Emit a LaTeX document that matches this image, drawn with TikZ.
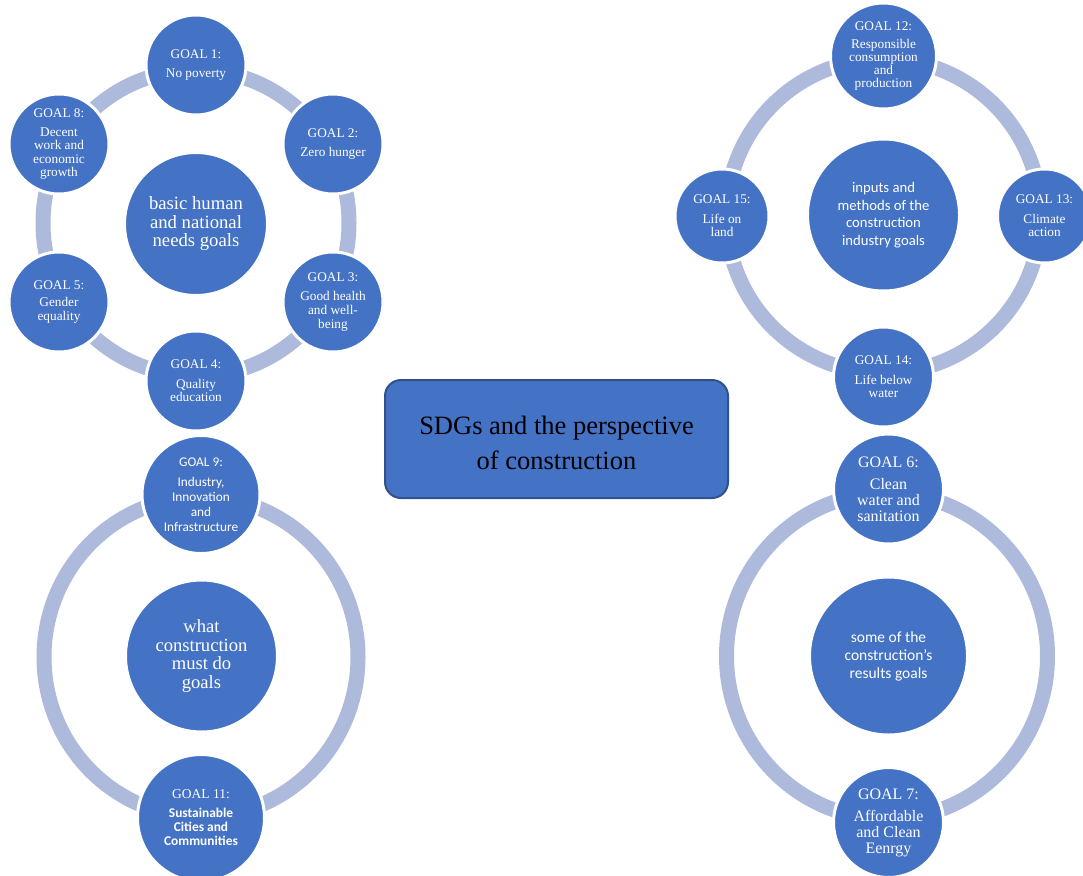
\documentclass[tikz,border=0pt]{standalone}
\usepackage{fontspec}
\setmainfont{Liberation Serif}
\newfontfamily\tnr{Liberation Serif}
\newfontfamily\carl{Carlito}
\definecolor{nodec}{RGB}{68,114,196}
\definecolor{ringc}{RGB}{174,186,220}
\definecolor{boxc}{RGB}{47,82,143}
\tikzset{
  ringline/.style={draw=ringc, line width=15pt},
  goal/.style={circle, fill=nodec, draw=white, line width=3pt, inner sep=0pt, text=white, align=center, font=\tnr\fontsize{13.3}{13.6}\selectfont},
  hub/.style={circle, fill=nodec, draw=white, line width=3pt, inner sep=0pt, text=white, align=center},
  titlebox/.style={rectangle, rounded corners=16pt, fill=nodec, draw=boxc, line width=2pt, minimum width=343pt, minimum height=118pt},
  titletext/.style={align=center, text=black, inner sep=0pt, font=\tnr\fontsize{26.5}{35}\selectfont}
}
\begin{document}
\begin{tikzpicture}[x=1pt,y=-1pt]
\useasboundingbox (0,0) rectangle (1083,875);
% ---------- rings ----------
\draw[ringline] (196,223) circle[radius=153];
\draw[ringline] (883.5,216) circle[radius=157];
\draw[ringline] (201,657) ellipse[x radius=157, y radius=160];
\draw[ringline] (887,656) ellipse[x radius=160.5, y radius=163];
% ---------- cluster 1 ----------
\node[hub, minimum size=143pt, font=\tnr\fontsize{18.7}{18.5}\selectfont] (hub1) at (196,224) {basic human\\and national\\needs goals};
\node[goal, minimum size=100pt] (g1) at (196,65) {GOAL 1:\\[6pt]No poverty};
\node[goal, minimum size=100pt] (g2) at (333,144) {GOAL 2:\\[4.7pt]Zero hunger};
\node[goal, minimum size=100pt] (g3) at (333,302) {GOAL 3:\\[5.5pt]Good health\\and well-\\being};
\node[goal, minimum size=100pt] (g4) at (196,381) {GOAL 4:\\[5.5pt]Quality\\education};
\node[goal, minimum size=100pt] (g5) at (59,302) {GOAL 5:\\[4pt]Gender\\equality};
\node[goal, minimum size=100pt] (g8) at (59,144) {GOAL 8:\\[5.5pt]Decent\\work and\\economic\\growth};
% ---------- cluster 2 ----------
\node[hub, minimum size=152pt, font=\carl\fontsize{14.7}{17.6}\selectfont] (hub2) at (883.5,215) {inputs and\\methods of the\\construction\\industry goals};
\node[goal, minimum size=106pt, font=\tnr\fontsize{13.3}{13}\selectfont] (g12) at (883.5,56) {GOAL 12:\\[5pt]Responsible\\consumption\\and\\production};
\node[goal, minimum size=94pt] (g13) at (1044.5,216) {GOAL 13:\\[5.5pt]Climate\\action};
\node[goal, minimum size=100pt] (g14) at (883.5,377) {GOAL 14:\\[5.5pt]Life below\\water};
\node[goal, minimum size=94pt] (g15) at (722,216) {GOAL 15:\\[5.5pt]Life on\\land};
% ---------- cluster 3 ----------
\node[hub, minimum size=152pt, font=\tnr\fontsize{18.6}{18.7}\selectfont] (hub3) at (201.5,656) {what\\construction\\must do\\goals};
\node[goal, minimum size=118pt, font=\carl\fontsize{13.3}{15}\selectfont] (g9) at (201,494.5) {GOAL 9:\\[5pt]Industry,\\Innovation\\and\\Infrastructure};
\node[goal, minimum size=127pt, font=\carl\bfseries\fontsize{13.4}{14}\selectfont] (g11) at (201,818) {{\tnr\mdseries\fontsize{13.5}{14}\selectfont GOAL 11:}\\[5pt]Sustainable\\Cities and\\Communities};
% ---------- cluster 4 ----------
\node[hub, minimum size=158pt, font=\carl\fontsize{15.5}{18}\selectfont] (hub4) at (888.5,656) {some of the\\construction’s\\results goals};
\node[goal, minimum size=110pt, font=\tnr\fontsize{16}{16}\selectfont] (g6) at (888.5,489) {GOAL 6:\\[6pt]Clean\\water and\\sanitation};
\node[goal, minimum size=110pt, font=\tnr\fontsize{16}{16}\selectfont] (g7) at (888.5,822.5) {GOAL 7:\\[6pt]Affordable\\and Clean\\Eenrgy};
% ---------- title ----------
\node[titlebox] (title) at (556.5,439) {};
\node[titletext] (titletxt) at ([yshift=-3.5pt]title.center) {SDGs and the perspective\\of construction};
\end{tikzpicture}
\end{document}
